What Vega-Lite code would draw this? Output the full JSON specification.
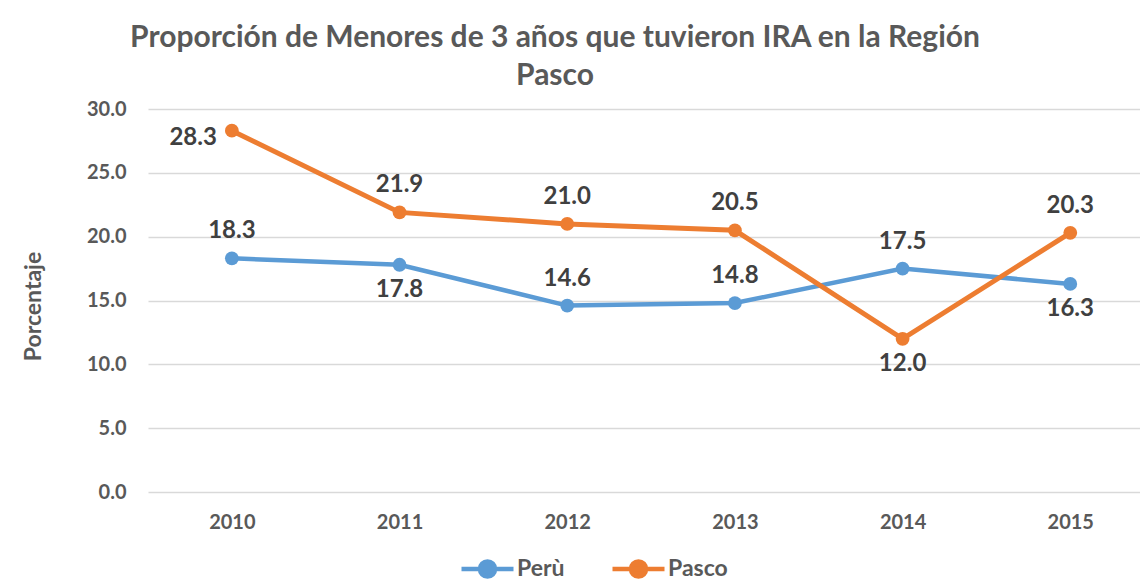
{
  "$schema": "https://vega.github.io/schema/vega-lite/v6.json",
  "autosize": "none",
  "width": 992,
  "height": 383,
  "padding": {"left": 148, "top": 109, "right": 0, "bottom": 89},
  "background": "white",
  "config": {
    "font": "Lato",
    "view": {"stroke": null},
    "axis": {"labelFont": "Lato", "labelFontWeight": "bold", "labelFontSize": 20, "labelColor": "#595959", "titleFont": "Lato"}
  },
  "title": {
    "text": ["Proporción de Menores de 3 años que tuvieron IRA en la Región", "Pasco"],
    "fontSize": 30,
    "fontWeight": "bold",
    "color": "#595959",
    "lineHeight": 38,
    "anchor": "middle",
    "dx": -89,
    "offset": 8
  },
  "data": {
    "values": [
      {"year": "2010", "serie": "Perù", "value": 18.3},
      {"year": "2011", "serie": "Perù", "value": 17.8},
      {"year": "2012", "serie": "Perù", "value": 14.6},
      {"year": "2013", "serie": "Perù", "value": 14.8},
      {"year": "2014", "serie": "Perù", "value": 17.5},
      {"year": "2015", "serie": "Perù", "value": 16.3},
      {"year": "2010", "serie": "Pasco", "value": 28.3},
      {"year": "2011", "serie": "Pasco", "value": 21.9},
      {"year": "2012", "serie": "Pasco", "value": 21.0},
      {"year": "2013", "serie": "Pasco", "value": 20.5},
      {"year": "2014", "serie": "Pasco", "value": 12.0},
      {"year": "2015", "serie": "Pasco", "value": 20.3}
    ]
  },
  "encoding": {
    "x": {
      "field": "year", "type": "ordinal",
      "scale": {"type": "point", "padding": 0.458, "align": 0.546},
      "axis": {"title": null, "labelAngle": 0, "domain": false, "ticks": false, "labelPadding": 20, "grid": false}
    },
    "y": {
      "field": "value", "type": "quantitative",
      "scale": {"domain": [0, 30], "nice": false},
      "axis": {
        "values": [0, 5, 10, 15, 20, 25, 30], "format": ".1f",
        "domain": false, "ticks": false, "labelPadding": 22,
        "grid": true, "gridColor": "#D9D9D9", "gridWidth": 1.5,
        "title": "Porcentaje", "titleFontSize": 23, "titleFontWeight": "bold", "titleColor": "#595959",
        "titleAngle": 270, "titleX": -115, "titleY": 197, "titleAlign": "center", "titleBaseline": "middle"
      }
    },
    "color": {
      "field": "serie", "type": "nominal",
      "scale": {"domain": ["Perù", "Pasco"], "range": ["#5B9BD5", "#ED7D31"]},
      "legend": {
        "title": null, "orient": "none", "direction": "horizontal",
        "legendX": 311, "legendY": 431,
        "symbolType": "M-1,0L1,0M0.29,0A0.29,0.29,0,1,1,-0.29,0A0.29,0.29,0,1,1,0.29,0Z",
        "symbolSize": 2704, "symbolStrokeWidth": 4.5,
        "labelFont": "Lato", "labelFontSize": 23, "labelFontWeight": "bold", "labelColor": "#595959",
        "labelOffset": 1, "columnPadding": 38,
        "encode": {"symbols": {"update": {"fill": {"scale": "color", "field": "value"}, "stroke": {"scale": "color", "field": "value"}, "opacity": {"value": 1}}}}
      }
    }
  },
  "layer": [
    {"transform": [{"filter": "datum.serie == 'Perù'"}], "mark": {"type": "line", "strokeWidth": 4.5}},
    {"transform": [{"filter": "datum.serie == 'Perù'"}], "mark": {"type": "point", "filled": true, "size": 190, "opacity": 1}},
    {"transform": [{"filter": "datum.serie == 'Pasco'"}], "mark": {"type": "line", "strokeWidth": 5}},
    {"transform": [{"filter": "datum.serie == 'Pasco'"}], "mark": {"type": "point", "filled": true, "size": 190, "opacity": 1}},
    {
      "transform": [{"filter": "(datum.serie == 'Perù' && datum.year != '2011' && datum.year != '2015') || (datum.serie == 'Pasco' && datum.year != '2010' && datum.year != '2014')"}],
      "mark": {"type": "text", "font": "Lato", "fontSize": 24, "fontWeight": "bold", "baseline": "alphabetic", "dy": -20},
      "encoding": {"text": {"field": "value", "type": "quantitative", "format": ".1f"}, "color": {"value": "#404040"}}
    },
    {
      "transform": [{"filter": "(datum.serie == 'Perù' && (datum.year == '2011' || datum.year == '2015')) || (datum.serie == 'Pasco' && datum.year == '2014')"}],
      "mark": {"type": "text", "font": "Lato", "fontSize": 24, "fontWeight": "bold", "baseline": "alphabetic", "dy": 32},
      "encoding": {"text": {"field": "value", "type": "quantitative", "format": ".1f"}, "color": {"value": "#404040"}}
    },
    {
      "transform": [{"filter": "datum.serie == 'Pasco' && datum.year == '2010'"}],
      "mark": {"type": "text", "font": "Lato", "fontSize": 24, "fontWeight": "bold", "baseline": "alphabetic", "align": "right", "dx": -15, "dy": 14},
      "encoding": {"text": {"field": "value", "type": "quantitative", "format": ".1f"}, "color": {"value": "#404040"}}
    }
  ]
}
